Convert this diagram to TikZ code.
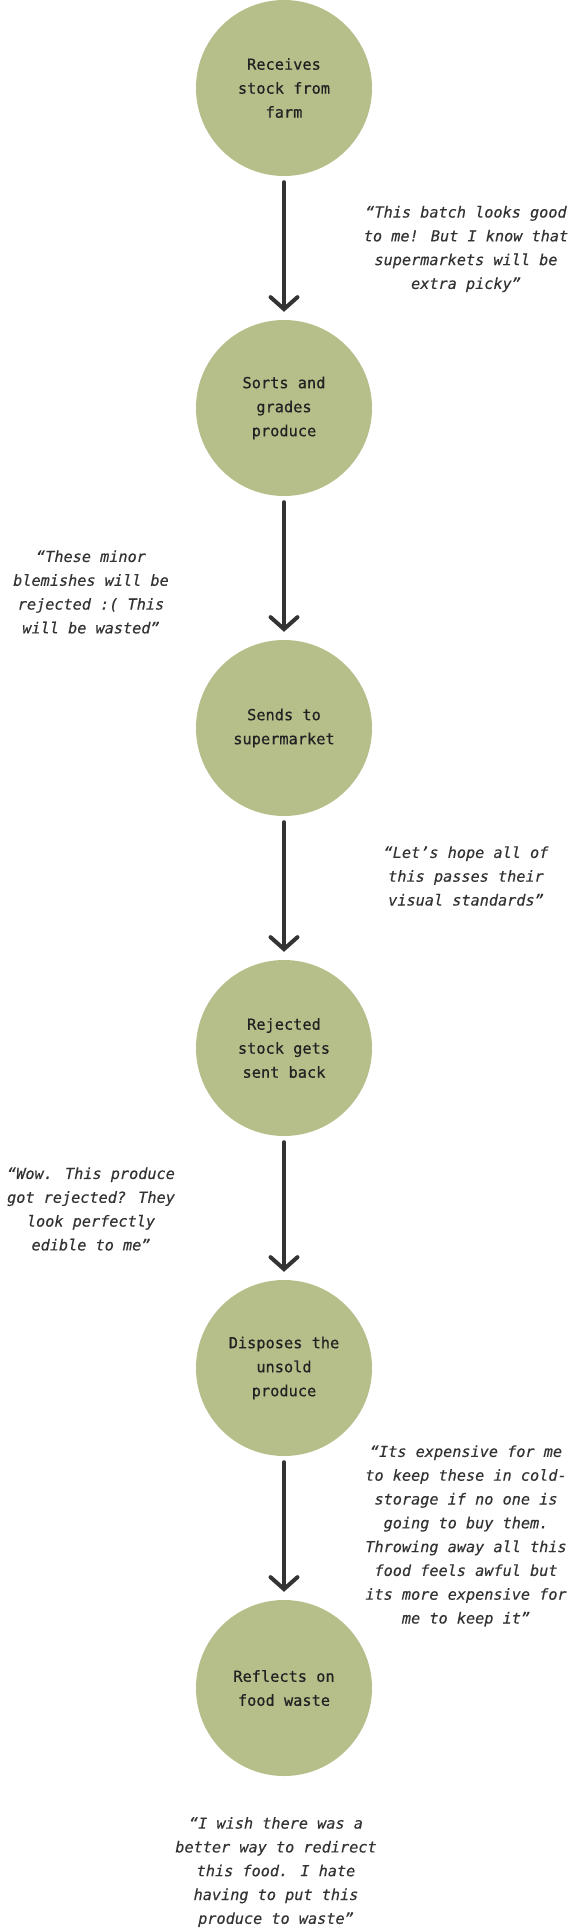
\documentclass[tikz,border=0pt]{standalone}
\usepackage{fontspec}
\setmonofont{DejaVu Sans Mono}
\newfontfamily\stagefont[FakeBold=0.6]{DejaVu Sans Mono}
\newfontfamily\quotefont[FakeBold=0.3]{DejaVu Sans Mono Oblique}
\usetikzlibrary{arrows.meta}
\definecolor{sage}{HTML}{B6BE8A}
\definecolor{textdark}{HTML}{222222}
\definecolor{quotegray}{HTML}{333333}
\definecolor{arrowdark}{HTML}{333333}
\begin{document}
\begin{tikzpicture}[x=1pt,y=-1pt,
  stage/.style={circle,fill=sage,minimum size=176pt,inner sep=0pt,align=center,
    font=\stagefont\fontsize{15.3}{24}\selectfont,text=textdark},
  quote/.style={align=center,inner sep=0pt,
    font=\quotefont\fontsize{15.2}{23.8}\selectfont,text=quotegray},
  flow/.style={draw=arrowdark,line width=4pt,line cap=round,
    -{Straight Barb[length=12pt,width=27pt,line cap=round]},
    shorten <=6pt, shorten >=8pt}]
\useasboundingbox (0,0) rectangle (572,1932);
\node[stage] (s1) at (284,88)   {Receives\\stock from\\farm};
\node[stage] (s2) at (284,408)  {Sorts and\\grades\\produce};
\node[stage] (s3) at (284,728)  {Sends to\\supermarket};
\node[stage] (s4) at (284,1048) {Rejected\\stock gets\\sent back};
\node[stage] (s5) at (284,1368) {Disposes the\\unsold\\produce};
\node[stage] (s6) at (284,1688) {Reflects on\\food waste};
\draw[flow] (s1) -- (s2);
\draw[flow] (s2) -- (s3);
\draw[flow] (s3) -- (s4);
\draw[flow] (s4) -- (s5);
\draw[flow] (s5) -- (s6);
\node[quote] (q1) at (466,249) {“This batch looks good\\to me! But I know that\\supermarkets will be\\extra picky”};
\node[quote] (q2) at (91,592) {“These minor\\blemishes will be\\rejected :( This\\will be wasted”};
\node[quote] (q3) at (466,876) {“Let’s hope all of\\this passes their\\visual standards”};
\node[quote] (q4) at (91,1209) {“Wow. This produce\\got rejected? They\\look perfectly\\edible to me”};
\node[quote] (q5) at (466,1536) {“Its expensive for me\\to keep these in cold-\\storage if no one is\\going to buy them.\\Throwing away all this\\food feels awful but\\its more expensive for\\me to keep it”};
\node[quote] (q6) at (276,1872) {“I wish there was a\\better way to redirect\\this food. I hate\\having to put this\\produce to waste”};
\end{tikzpicture}
\end{document}
